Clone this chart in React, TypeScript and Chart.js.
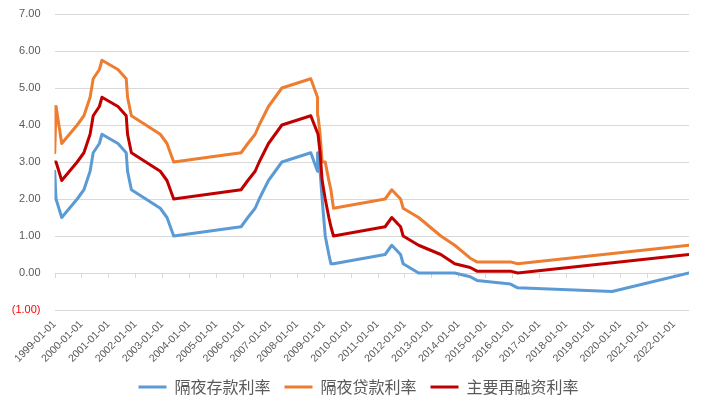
import React, { useEffect, useRef } from 'react';
import { Chart, registerables } from 'chart.js';

Chart.register(...registerables);

const tickLabels = [
  '1999-01-01', '2000-01-01', '2001-01-01', '2002-01-01', '2003-01-01', '2004-01-01',
  '2005-01-01', '2006-01-01', '2007-01-01', '2008-01-01', '2009-01-01', '2010-01-01',
  '2011-01-01', '2012-01-01', '2013-01-01', '2014-01-01', '2015-01-01', '2016-01-01',
  '2017-01-01', '2018-01-01', '2019-01-01', '2020-01-01', '2021-01-01', '2022-01-01',
];

const dates = [
  '1999-01-01', '1999-01-04', '1999-01-22', '1999-04-09', '1999-11-05',
  '2000-02-04', '2000-03-17', '2000-04-28', '2000-06-09', '2000-09-01', '2000-10-06',
  '2001-05-11', '2001-08-31', '2001-09-18', '2001-11-09',
  '2002-12-06', '2003-03-07', '2003-06-06',
  '2005-12-06', '2006-03-08', '2006-06-15', '2006-08-09', '2006-10-11', '2006-12-13',
  '2007-03-14', '2007-06-13',
  '2008-07-09', '2008-10-08', '2008-10-09', '2008-10-15', '2008-11-12', '2008-12-10',
  '2009-01-21', '2009-03-11', '2009-04-08', '2009-05-13',
  '2011-04-13', '2011-07-13', '2011-11-09', '2011-12-14',
  '2012-07-11', '2013-05-08', '2013-11-13', '2014-06-11', '2014-09-10',
  '2015-12-09', '2016-03-16', '2019-09-18', '2022-07-27',
];

const depositRates = [
  2.0, 2.75, 2.0, 1.5, 2.0,
  2.25, 2.5, 2.75, 3.25, 3.5, 3.75,
  3.5, 3.25, 2.75, 2.25,
  1.75, 1.5, 1.0,
  1.25, 1.5, 1.75, 2.0, 2.25, 2.5,
  2.75, 3.0,
  3.25, 2.75, 3.25, 3.25, 2.75, 2.0,
  1.0, 0.5, 0.25, 0.25,
  0.5, 0.75, 0.5, 0.25,
  0.0, 0.0, 0.0, -0.1, -0.2,
  -0.3, -0.4, -0.5, 0.0,
];

const lendingRates = [
  4.5, 3.25, 4.5, 3.5, 4.0,
  4.25, 4.5, 4.75, 5.25, 5.5, 5.75,
  5.5, 5.25, 4.75, 4.25,
  3.75, 3.5, 3.0,
  3.25, 3.5, 3.75, 4.0, 4.25, 4.5,
  4.75, 5.0,
  5.25, 4.75, 4.25, 4.25, 3.75, 3.0,
  3.0, 2.5, 2.25, 1.75,
  2.0, 2.25, 2.0, 1.75,
  1.5, 1.0, 0.75, 0.4, 0.3,
  0.3, 0.25, null, 0.75,
];

const refiRates = [
  3.0, 3.0, 3.0, 2.5, 3.0,
  3.25, 3.5, 3.75, 4.25, 4.5, 4.75,
  4.5, 4.25, 3.75, 3.25,
  2.75, 2.5, 2.0,
  2.25, 2.5, 2.75, 3.0, 3.25, 3.5,
  3.75, 4.0,
  4.25, null, null, 3.75, 3.25, 2.5,
  2.0, 1.5, 1.25, 1.0,
  1.25, 1.5, 1.25, 1.0,
  0.75, 0.5, 0.25, 0.15, 0.05,
  0.05, 0.0, null, 0.5,
];

const seriesNames = ['隔夜存款利率', '隔夜贷款利率', '主要再融资利率'];
const seriesColors = ['#5B9BD5', '#ED7D31', '#C00000'];

const dayNum = (s: string) => {
  const [y, m, d] = s.split('-').map(Number);
  return Date.UTC(y, m - 1, d) / 86400000;
};

const TICK_FONT = "'Liberation Sans', Arial, sans-serif";

export default function App() {
  const ref = useRef<HTMLCanvasElement>(null);

  useEffect(() => {
    if (!ref.current) return;
    const xs = dates.map(dayNum);
    const mk = (vals: (number | null)[]) => vals.map((v, i) => ({ x: xs[i], y: v }));
    const allSeries = [depositRates, lendingRates, refiRates];

    const zeroTicks = {
      id: 'zeroTicks',
      beforeDatasetsDraw(chart: any) {
        const { ctx, scales } = chart;
        const y0 = Math.round(scales.y.getPixelForValue(0));
        ctx.save();
        ctx.strokeStyle = '#d9d9d9';
        ctx.lineWidth = 1;
        ctx.beginPath();
        tickLabels.forEach((t) => {
          const px = Math.round(scales.x.getPixelForValue(dayNum(t))) + 0.5;
          ctx.moveTo(px, y0);
          ctx.lineTo(px, y0 + 5);
        });
        ctx.stroke();
        ctx.restore();
      },
    };

    const legendShift = {
      id: 'legendShift',
      afterLayout(chart: any) {
        if (chart.legend) chart.legend.left += 28;
      },
    };

    const chart = new Chart(ref.current, {
      type: 'line',
      data: {
        datasets: allSeries.map((vals, i) => ({
          label: seriesNames[i],
          data: mk(vals),
          borderColor: seriesColors[i],
          backgroundColor: seriesColors[i],
          borderWidth: 3,
          pointRadius: 0,
          tension: 0,
          spanGaps: true,
          borderJoinStyle: 'round',
          borderCapStyle: 'round',
          order: 3 - i,
        })),
      },
      options: {
        animation: false,
        responsive: true,
        maintainAspectRatio: false,
        layout: { padding: { left: 0, right: 25, top: 14, bottom: 6 } },
        plugins: {
          tooltip: { enabled: false },
          legend: {
            position: 'bottom',
            labels: {
              boxWidth: 28,
              boxHeight: 3,
              padding: 14,
              color: '#595959',
              font: { size: 16, family: "'Noto Sans CJK SC', sans-serif" },
              sort: (a: any, b: any) => a.datasetIndex - b.datasetIndex,
              generateLabels: (c: any) => {
                const items = Chart.defaults.plugins.legend.labels.generateLabels(c);
                return items.map((it: any) => ({ ...it, lineWidth: 0 }));
              },
            },
          },
        },
        scales: {
          x: {
            type: 'linear',
            min: dayNum(dates[0]),
            max: dayNum(dates[dates.length - 1]),
            grid: { display: false, drawTicks: false },
            border: { display: false },
            afterBuildTicks: (scale: any) => {
              scale.ticks = tickLabels.map((t) => ({ value: dayNum(t) }));
            },
            afterFit: (scale: any) => {
              scale.height = 55;
            },
            ticks: {
              autoSkip: false,
              minRotation: 45,
              maxRotation: 45,
              padding: 8,
              color: '#595959',
              font: { size: 10.5, family: TICK_FONT },
              callback: (_v: any, i: number) => tickLabels[i],
            },
          },
          y: {
            min: -1,
            max: 7,
            grid: { color: '#d9d9d9', lineWidth: 1, drawTicks: false },
            border: { display: false },
            afterFit: (scale: any) => {
              scale.width = 54.5;
              scale.paddingTop = 0;
              scale.paddingBottom = 0;
            },
            ticks: {
              stepSize: 1,
              padding: 14,
              color: (ctx: any) => (ctx.tick && ctx.tick.value < 0 ? '#FF0000' : '#595959'),
              font: { size: 11, family: TICK_FONT },
              callback: (v: any) =>
                v < 0 ? `(${Math.abs(v).toFixed(2)})` : Number(v).toFixed(2),
            },
          },
        },
      },
      plugins: [zeroTicks, legendShift],
    } as any);

    return () => chart.destroy();
  }, []);

  return (
    <div style={{ position: 'fixed', left: 0, top: 0, width: 714, height: 411, background: '#fff' }}>
      <canvas ref={ref} />
    </div>
  );
}
